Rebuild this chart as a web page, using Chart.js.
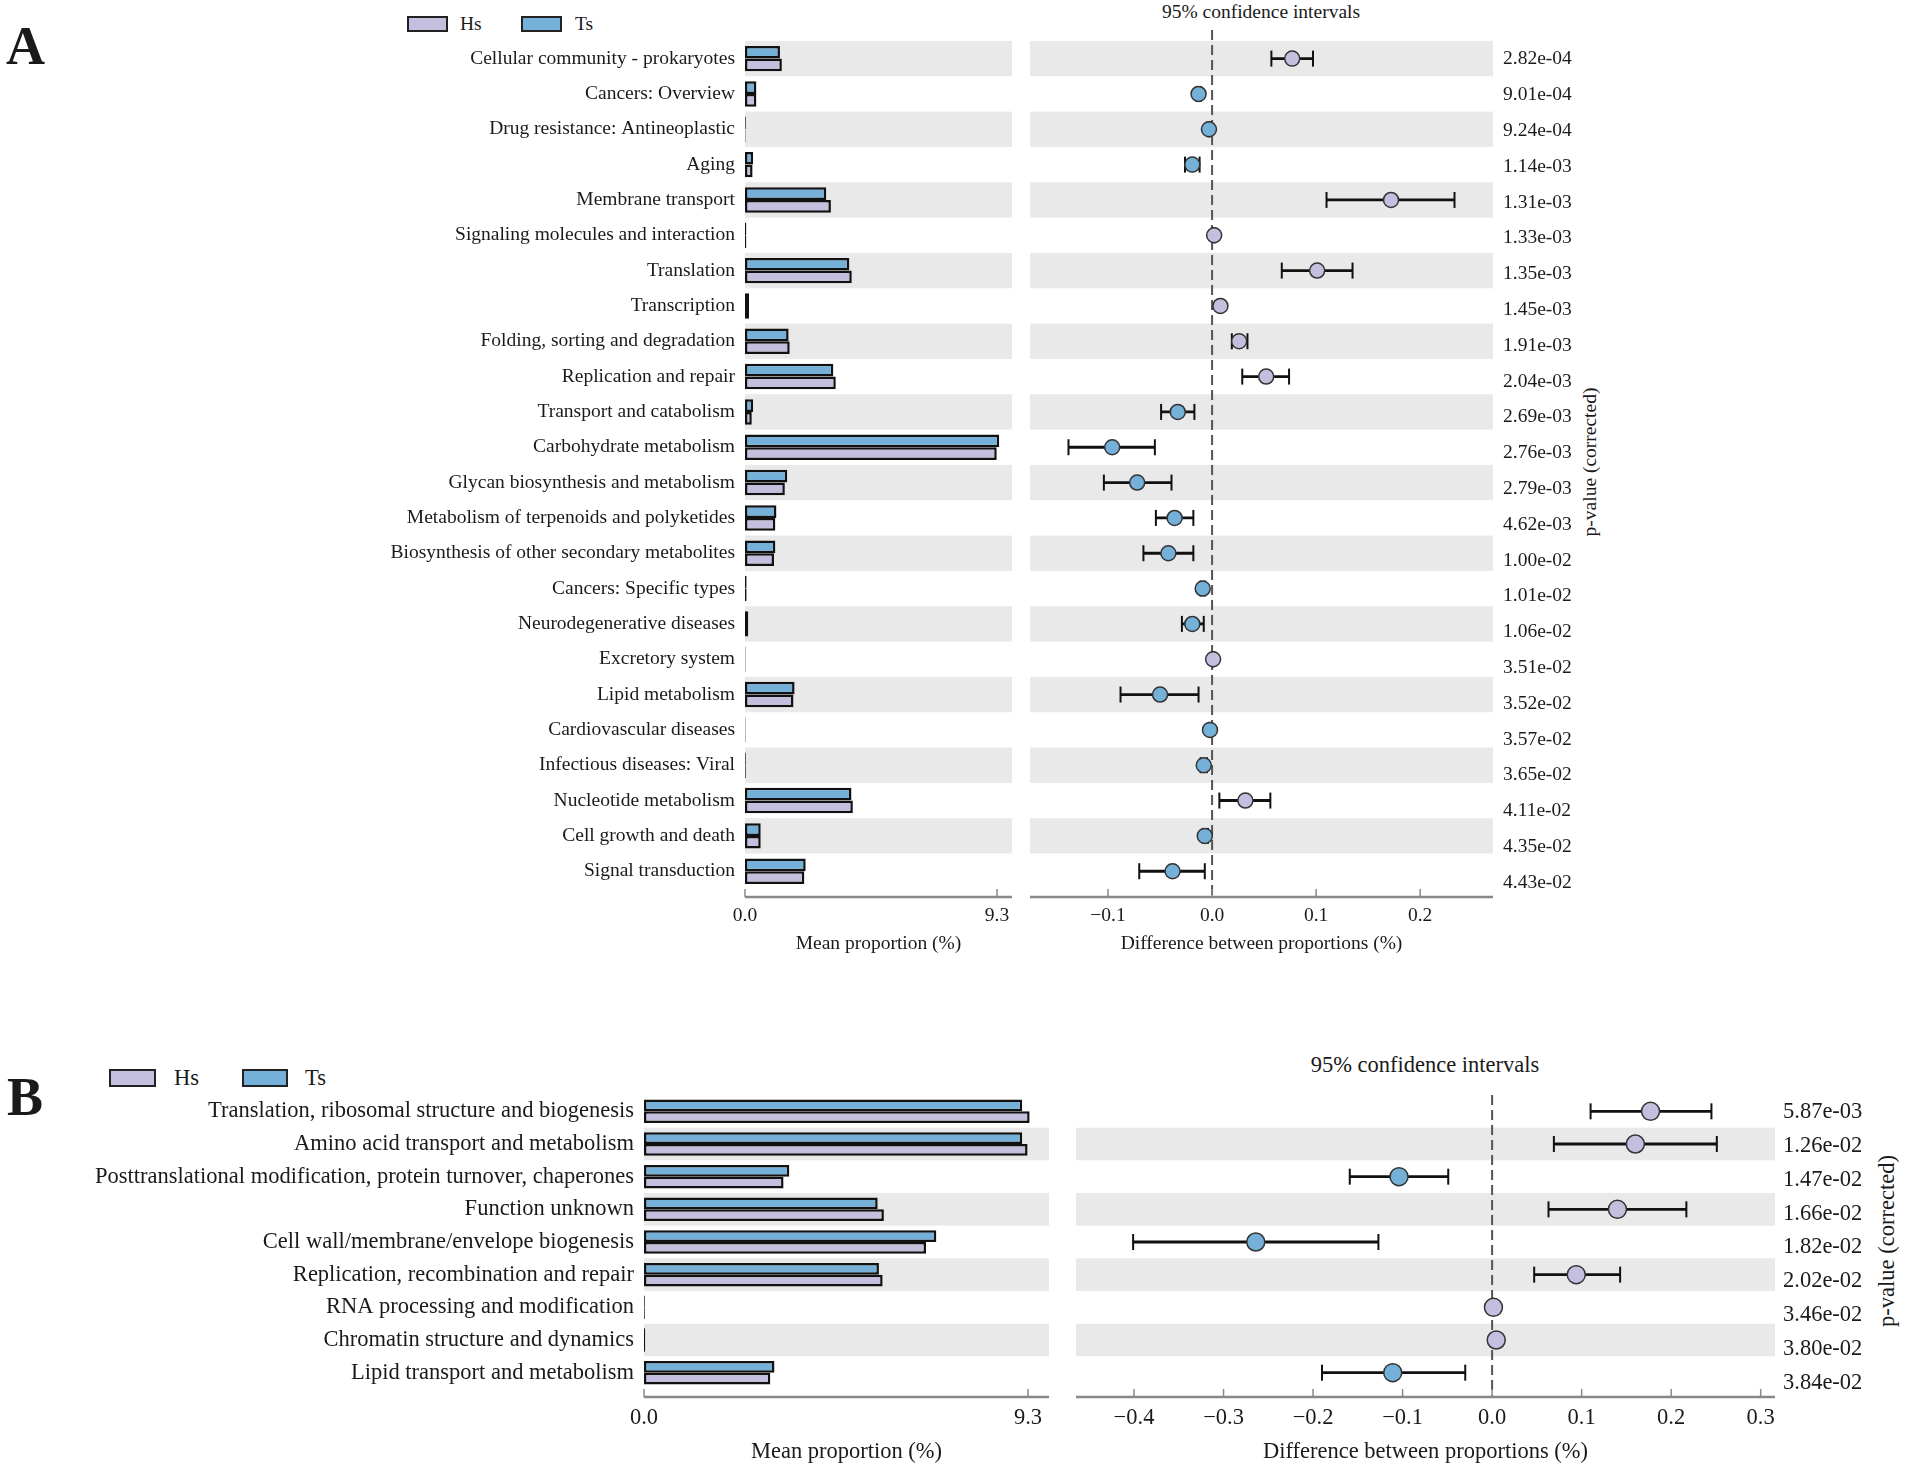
<!DOCTYPE html>
<html lang="en">
<head>
<meta charset="UTF-8">
<title>Hs vs Ts - extended error bar plots</title>
<script src="https://cdn.jsdelivr.net/npm/chart.js"></script>
<style>
    body {
        margin: 0;
        background: #fff;
        font-family: "Liberation Serif", "Times New Roman", serif;
        color: #1a1a1a;
    }
    #page {
        position: relative;
        width: 1908px;
        height: 1467px;
        overflow: hidden;
    }
    .box { position: absolute; }
    .txt {
        position: absolute;
        white-space: nowrap;
        line-height: 1;
        transform: translateY(-50%);
    }
    .letter {
        position: absolute;
        font-weight: bold;
        font-size: 54px;
        line-height: 1;
    }
    .swatch {
        position: absolute;
        border: 2.5px solid #222;
        box-sizing: border-box;
    }
    .center { transform: translate(-50%, -50%); }
    .vtitle {
        position: absolute;
        white-space: nowrap;
        line-height: 1;
        transform: translate(-50%, -50%) rotate(-90deg);
    }
</style>
</head>
<body>
<div id="page">
    <!-- panel A -->
    <div class="letter" style="left:6px; top:19px;">A</div>
    <div class="swatch" style="left:407px; top:16px; width:41px; height:16px; background:#c5bfdf;"></div>
    <div class="txt" style="left:460px; top:24px; font-size:19.5px;">Hs</div>
    <div class="swatch" style="left:521px; top:16px; width:41px; height:16px; background:#74b0d8;"></div>
    <div class="txt" style="left:575px; top:24px; font-size:19.5px;">Ts</div>
    <div class="txt center" style="left:1261px; top:12px; font-size:19.5px;">95% confidence intervals</div>
    <div class="vtitle" style="left:1590px; top:462px; font-size:19.5px;">p-value (corrected)</div>
    <div class="box" style="left:0; top:0;"><canvas id="aMean" width="1020" height="1000"></canvas></div>
    <div class="box" style="left:1020px; top:0;"><canvas id="aDiff" width="620" height="1000"></canvas></div>

    <!-- panel B -->
    <div class="letter" style="left:7px; top:1070px;">B</div>
    <div class="swatch" style="left:109px; top:1069px; width:47px; height:18px; background:#c5bfdf;"></div>
    <div class="txt" style="left:174px; top:1078px; font-size:22.5px;">Hs</div>
    <div class="swatch" style="left:242px; top:1069px; width:46px; height:18px; background:#74b0d8;"></div>
    <div class="txt" style="left:305px; top:1078px; font-size:22.5px;">Ts</div>
    <div class="txt center" style="left:1425px; top:1065px; font-size:22.5px;">95% confidence intervals</div>
    <div class="vtitle" style="left:1887px; top:1241px; font-size:22.5px;">p-value (corrected)</div>
    <div class="box" style="left:0; top:1040px;"><canvas id="bMean" width="1060" height="427"></canvas></div>
    <div class="box" style="left:1060px; top:1040px;"><canvas id="bDiff" width="848" height="427"></canvas></div>
</div>

<script>
    // ---- Panel A: KEGG level 2 ----
    const aLabels = [
        "Cellular community - prokaryotes", "Cancers: Overview", "Drug resistance: Antineoplastic",
        "Aging", "Membrane transport", "Signaling molecules and interaction", "Translation",
        "Transcription", "Folding, sorting and degradation", "Replication and repair",
        "Transport and catabolism", "Carbohydrate metabolism", "Glycan biosynthesis and metabolism",
        "Metabolism of terpenoids and polyketides", "Biosynthesis of other secondary metabolites",
        "Cancers: Specific types", "Neurodegenerative diseases", "Excretory system",
        "Lipid metabolism", "Cardiovascular diseases", "Infectious diseases: Viral",
        "Nucleotide metabolism", "Cell growth and death", "Signal transduction"
    ];
    const aHs = [1.36, 0.42, 0.02, 0.28, 3.17, 0.05, 3.94, 0.15, 1.65, 3.35, 0.25, 9.29,
                 1.47, 1.12, 1.07, 0.06, 0.12, 0.02, 1.79, 0.02, 0.03, 3.98, 0.58, 2.19];
    const aTs = [1.29, 0.42, 0.03, 0.30, 3.00, 0.05, 3.85, 0.15, 1.61, 3.26, 0.30, 9.38,
                 1.56, 1.16, 1.12, 0.06, 0.12, 0.02, 1.83, 0.02, 0.03, 3.93, 0.58, 2.24];
    const aDiff = [0.077, -0.013, -0.003, -0.019, 0.172, 0.002, 0.101, 0.008, 0.026, 0.052,
                   -0.033, -0.096, -0.072, -0.036, -0.042, -0.009, -0.019, 0.001, -0.050,
                   -0.002, -0.008, 0.032, -0.007, -0.038];
    const aLow = [0.057, -0.015, -0.004, -0.026, 0.110, 0.001, 0.067, 0.007, 0.019, 0.029,
                  -0.049, -0.138, -0.104, -0.054, -0.066, -0.011, -0.029, 0.000, -0.088,
                  -0.003, -0.011, 0.007, -0.009, -0.070];
    const aHigh = [0.097, -0.011, -0.002, -0.012, 0.233, 0.003, 0.135, 0.009, 0.034, 0.074,
                   -0.017, -0.055, -0.039, -0.018, -0.018, -0.007, -0.008, 0.002, -0.013,
                   -0.001, -0.005, 0.056, -0.004, -0.007];
    const aPval = ["2.82e-04", "9.01e-04", "9.24e-04", "1.14e-03", "1.31e-03", "1.33e-03",
                   "1.35e-03", "1.45e-03", "1.91e-03", "2.04e-03", "2.69e-03", "2.76e-03",
                   "2.79e-03", "4.62e-03", "1.00e-02", "1.01e-02", "1.06e-02", "3.51e-02",
                   "3.52e-02", "3.57e-02", "3.65e-02", "4.11e-02", "4.35e-02", "4.43e-02"];
    const aMeanTicks = [0, 9.3];
    const aDiffTicks = [-0.1, 0, 0.1, 0.2];

    // ---- Panel B: COG ----
    const bLabels = [
        "Translation, ribosomal structure and biogenesis", "Amino acid transport and metabolism",
        "Posttranslational modification, protein turnover, chaperones", "Function unknown",
        "Cell wall/membrane/envelope biogenesis", "Replication, recombination and repair",
        "RNA processing and modification", "Chromatin structure and dynamics",
        "Lipid transport and metabolism"
    ];
    const bHs = [9.34, 9.29, 3.38, 5.81, 6.83, 5.78, 0.02, 0.03, 3.06];
    const bTs = [9.16, 9.16, 3.52, 5.66, 7.08, 5.69, 0.02, 0.03, 3.16];
    const bDiff = [0.177, 0.160, -0.104, 0.140, -0.264, 0.094, 0.0015, 0.0046, -0.111];
    const bLow = [0.110, 0.069, -0.159, 0.063, -0.401, 0.047, 0.001, 0.004, -0.190];
    const bHigh = [0.245, 0.251, -0.049, 0.217, -0.127, 0.143, 0.002, 0.005, -0.030];
    const bPval = ["5.87e-03", "1.26e-02", "1.47e-02", "1.66e-02", "1.82e-02", "2.02e-02",
                   "3.46e-02", "3.80e-02", "3.84e-02"];
    const bMeanTicks = [0, 9.3];
    const bDiffTicks = [-0.4, -0.3, -0.2, -0.1, 0, 0.1, 0.2, 0.3];

    const HS = '#c5bfdf';
    const TS = '#74b0d8';
    const BAND = '#e9e9e9';
    const INK = '#1a1a1a';
    const SERIF = 'Liberation Serif';

    function fmt(v) {
        return (v < 0 ? '\u2212' : '') + Math.abs(v).toFixed(1);
    }

    // gray row bands, dashed zero line, bottom axis with inward ticks
    const decor = {
        id: 'decor',
        beforeDatasetsDraw(chart, args, opts) {
            const { ctx, chartArea: a } = chart;
            const y = chart.scales.y;
            ctx.save();
            ctx.fillStyle = BAND;
            for (let i = 0; i < opts.rows; i++) {
                if (i % 2 !== opts.shade) continue;
                const t = y.getPixelForValue(i - 0.5);
                const b = y.getPixelForValue(i + 0.5);
                ctx.fillRect(a.left, t, a.right - a.left, b - t);
            }
            if (opts.zero) {
                const x0 = chart.scales.x.getPixelForValue(0);
                ctx.strokeStyle = '#555';
                ctx.lineWidth = 2;
                ctx.setLineDash([10, 5]);
                ctx.beginPath();
                ctx.moveTo(x0, a.top);
                ctx.lineTo(x0, a.bottom);
                ctx.stroke();
            }
            ctx.restore();
        },
        afterDraw(chart) {
            const { ctx, chartArea: a } = chart;
            const x = chart.scales.x;
            ctx.save();
            ctx.strokeStyle = '#888';
            ctx.lineWidth = 1.5;
            x.ticks.forEach(t => {
                const px = x.getPixelForValue(t.value);
                ctx.beginPath();
                ctx.moveTo(px, a.bottom);
                ctx.lineTo(px, a.bottom - 8);
                ctx.stroke();
            });
            ctx.lineWidth = 2.5;
            ctx.beginPath();
            ctx.moveTo(a.left, a.bottom);
            ctx.lineTo(a.right, a.bottom);
            ctx.stroke();
            ctx.restore();
        }
    };

    function meanChart(id, labels, hs, ts, o) {
        const font = { family: SERIF, size: o.fs };
        const bar = (data, color) => ({
            data: data.map((v, i) => ({ x: v, y: i })),
            backgroundColor: color,
            borderColor: '#111',
            borderWidth: 2.5,
            borderSkipped: false,
            barPercentage: 1,
            categoryPercentage: 0.72
        });
        return new Chart(document.getElementById(id), {
            type: 'bar',
            data: { datasets: [bar(ts, TS), bar(hs, HS)] },
            options: {
                indexAxis: 'y',
                responsive: false,
                animation: false,
                events: [],
                layout: { padding: o.pad },
                plugins: {
                    legend: { display: false },
                    tooltip: { enabled: false },
                    decor: { rows: labels.length, shade: o.shade, zero: false }
                },
                scales: {
                    x: {
                        type: 'linear', min: 0, max: o.xMax, offset: false,
                        grid: { display: false, drawTicks: false },
                        border: { display: false },
                        afterBuildTicks: s => { s.ticks = o.ticks.map(v => ({ value: v })); },
                        ticks: { font, color: INK, padding: o.tickPad, maxRotation: 0, autoSkip: false, callback: fmt },
                        title: { display: true, text: 'Mean proportion (%)', font, color: INK,
                                 padding: { top: 0, bottom: o.titlePad } },
                        afterFit: s => { s.height = o.xH; }
                    },
                    y: {
                        type: 'linear', reverse: true, min: o.yMin, max: o.yMax, offset: false,
                        grid: { display: false, drawTicks: false },
                        border: { display: false },
                        afterBuildTicks: s => { s.ticks = labels.map((_, i) => ({ value: i })); },
                        ticks: { font, color: INK, padding: 10, autoSkip: false, callback: v => labels[v] },
                        afterFit: s => { s.width = o.yW; }
                    }
                }
            },
            plugins: [decor]
        });
    }

    function diffChart(id, diff, low, high, pvals, o) {
        const font = { family: SERIF, size: o.fs };
        const pts = arr => arr.map((v, i) => ({ x: v, y: i }));
        const cap = arr => ({
            type: 'scatter', order: 1, data: pts(arr),
            pointStyle: 'line', rotation: 90, pointRadius: 8,
            borderColor: '#111', pointBorderWidth: 2
        });
        return new Chart(document.getElementById(id), {
            type: 'bar',
            data: {
                datasets: [
                    {
                        type: 'scatter', order: 0, data: pts(diff),
                        pointRadius: o.r,
                        pointBackgroundColor: diff.map(v => v > 0 ? HS : TS),
                        pointBorderColor: '#333',
                        pointBorderWidth: 1.5
                    },
                    cap(low),
                    cap(high),
                    {
                        type: 'bar', order: 2,
                        data: low.map((v, i) => ({ x: [v, high[i]], y: i })),
                        backgroundColor: '#111',
                        borderWidth: 0,
                        barThickness: 2.2
                    }
                ]
            },
            options: {
                indexAxis: 'y',
                responsive: false,
                animation: false,
                events: [],
                layout: { padding: o.pad },
                plugins: {
                    legend: { display: false },
                    tooltip: { enabled: false },
                    decor: { rows: diff.length, shade: o.shade, zero: true }
                },
                scales: {
                    x: {
                        type: 'linear', min: o.xMin, max: o.xMax, offset: false,
                        grid: { display: false, drawTicks: false },
                        border: { display: false },
                        afterBuildTicks: s => { s.ticks = o.ticks.map(v => ({ value: v })); },
                        ticks: { font, color: INK, padding: o.tickPad, maxRotation: 0, autoSkip: false, callback: fmt },
                        title: { display: true, text: 'Difference between proportions (%)', font, color: INK,
                                 padding: { top: 0, bottom: o.titlePad } },
                        afterFit: s => { s.height = o.xH; }
                    },
                    y: {
                        type: 'linear', reverse: true, min: o.yMin, max: o.yMax, offset: false,
                        display: false
                    },
                    p: {
                        type: 'linear', position: 'right', reverse: true, min: o.pMin, max: o.pMax, offset: false,
                        grid: { display: false, drawTicks: false },
                        border: { display: false },
                        afterBuildTicks: s => { s.ticks = pvals.map((_, i) => ({ value: i })); },
                        ticks: { font, color: INK, padding: o.pPad, autoSkip: false, callback: v => pvals[v] },
                        afterFit: s => { s.width = o.pW; }
                    }
                }
            },
            plugins: [decor]
        });
    }

    meanChart('aMean', aLabels, aHs, aTs, {
        fs: 19.5, pad: { left: 0, right: 8, top: 30, bottom: 0 },
        yW: 745, xH: 103, tickPad: 7, titlePad: 44,
        xMax: 9.853, yMin: -0.81, yMax: 23.73, ticks: aMeanTicks, shade: 0
    });
    diffChart('aDiff', aDiff, aLow, aHigh, aPval, {
        fs: 19.5, r: 7.5, pad: { left: 10, right: 0, top: 30, bottom: 0 },
        pW: 147, xH: 103, tickPad: 7, titlePad: 44, pPad: 10,
        xMin: -0.175, xMax: 0.270, yMin: -0.81, yMax: 23.73, pMin: -0.818, pMax: 23.40,
        ticks: aDiffTicks, shade: 0
    });
    meanChart('bMean', bLabels, bHs, bTs, {
        fs: 22.5, pad: { left: 0, right: 11, top: 55, bottom: 0 },
        yW: 644, xH: 70, tickPad: 8, titlePad: 1,
        xMax: 9.809, yMin: -0.5, yMax: 8.745, ticks: bMeanTicks, shade: 1
    });
    diffChart('bDiff', bDiff, bLow, bHigh, bPval, {
        fs: 22.5, r: 9, pad: { left: 16, right: 0, top: 55, bottom: 0 },
        pW: 133, xH: 70, tickPad: 8, titlePad: 1, pPad: 8,
        xMin: -0.4648, xMax: 0.316, yMin: -0.5, yMax: 8.745, pMin: -0.50, pMax: 8.41,
        ticks: bDiffTicks, shade: 1
    });
</script>
</body>
</html>
